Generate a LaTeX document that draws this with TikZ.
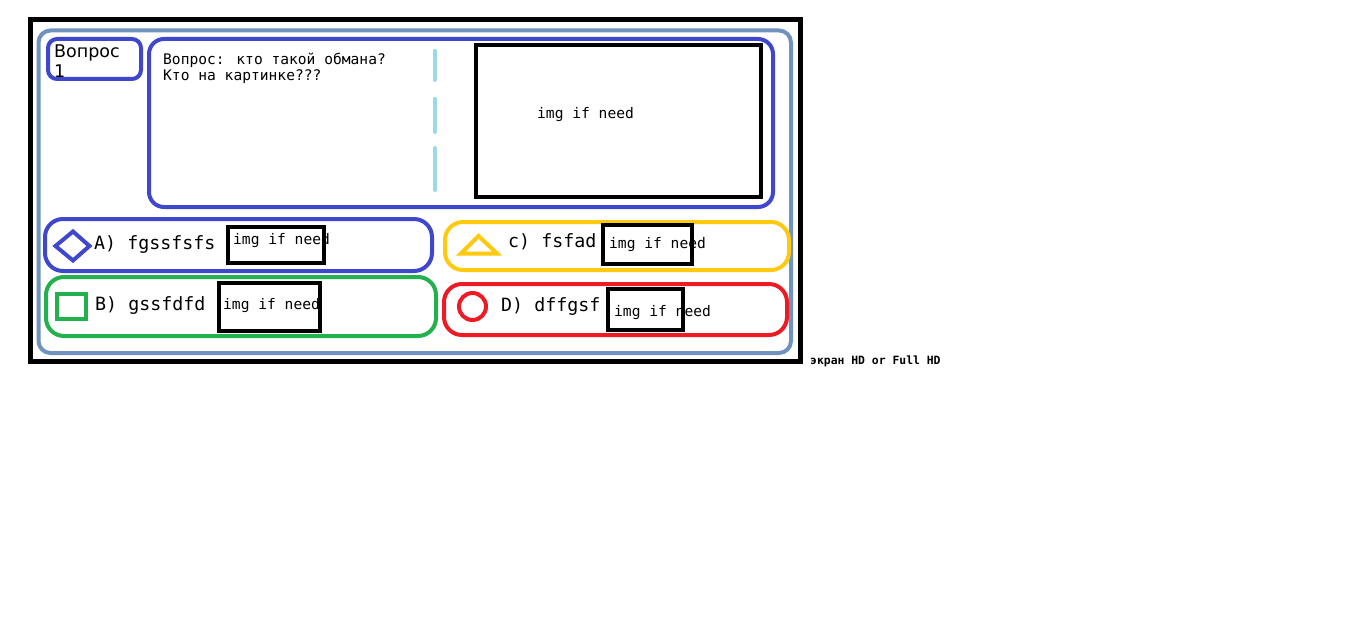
\documentclass[tikz,border=0pt]{standalone}
\usepackage{fontspec}
\setmainfont{DejaVu Sans}
\newfontfamily\monof{DejaVu Sans Mono}
\definecolor{pblue}{HTML}{3F48CC}
\definecolor{pgray}{HTML}{7092BE}
\definecolor{pturq}{HTML}{99D9EA}
\definecolor{pyellow}{HTML}{FFC90E}
\definecolor{pgreen}{HTML}{22B14C}
\definecolor{pred}{HTML}{ED1C24}
\tikzset{
  frame/.style={draw=black,line width=5pt},
  panel/.style={draw=pgray,line width=4pt,rounded corners=12pt},
  bluebox/.style={draw=pblue,line width=4pt,rounded corners=12pt},
  ansbox/.style={line width=4pt,rounded corners=18pt},
  imgbox/.style={draw=black,line width=4.5pt},
  icon/.style={line width=4pt},
  dashseg/.style={draw=pturq,line width=4pt,line cap=round},
  smalltxt/.style={anchor=base west,inner sep=0pt,font=\monof\fontsize{14.6}{16}\selectfont},
  anstxt/.style={anchor=base west,inner sep=0pt,font=\monof\fontsize{18.3}{20}\selectfont},
}
\begin{document}
\begin{tikzpicture}[x=1pt,y=-1pt]
\useasboundingbox (0,0) rectangle (1357,623);
\fill[white] (0,0) rectangle (1357,623);
% outer frame
\draw[frame] (30.5,19.5) rectangle (800.5,361.5);
\draw[panel] (38.5,30.5) rectangle (791,353);
% question number
\draw[bluebox,rounded corners=9pt] (48,39) rectangle (141,79);
\node[anchor=base west,inner sep=0pt,font=\fontsize{17.5}{20}\selectfont] (qn1) at (54,58) {Вопрос};
\node[anchor=base west,inner sep=0pt,font=\fontsize{17.5}{20}\selectfont] (qn2) at (54,78) {1};
% question box
\draw[bluebox,rounded corners=15pt] (149,39) rectangle (773,207);
\node[smalltxt] (q1) at (163,65) {Вопрос: кто такой обмана?};
\node[smalltxt] (q2) at (163,81) {Кто на картинке???};
\draw[dashseg] (434.5,51) -- (434.5,80);
\draw[dashseg] (434.5,99) -- (434.5,132);
\draw[dashseg] (434.5,148) -- (434.5,190);
\draw[imgbox] (476,45) rectangle (761,197);
\node[smalltxt] (qi) at (537,119) {img if need};
% answer A
\draw[ansbox,draw=pblue] (45,219) rectangle (432,271);
\draw[icon,draw=pblue] (55.5,246) -- (73,231.5) -- (89.5,246) -- (73,260.5) -- cycle;
\node[anstxt] (ta) at (94,249) {A) fgssfsfs};
\draw[imgbox] (228,227) rectangle (324,263);
\node[smalltxt] (ia) at (233,244) {img if need};
% answer C
\draw[ansbox,draw=pyellow] (445,222) rectangle (789,270);
\draw[icon,draw=pyellow] (461,253.5) -- (478.5,236) -- (497,253.5) -- cycle;
\node[anstxt] (tc) at (508,247) {c) fsfad};
\draw[imgbox] (603,225) rectangle (692,264);
\node[smalltxt] (ic) at (609,248) {img if need};
% answer B
\draw[ansbox,draw=pgreen] (46,277) rectangle (436,336);
\draw[icon,draw=pgreen] (57,294) rectangle (86,319);
\node[anstxt] (tb) at (95,310) {B) gssfdfd};
\draw[imgbox] (219,283) rectangle (320,331);
\node[smalltxt] (ib) at (223,309) {img if need};
% answer D
\draw[ansbox,draw=pred] (444,284) rectangle (787,335);
\draw[icon,draw=pred] (472.5,306.5) circle (13.5);
\node[anstxt] (td) at (501,311) {D) dffgsf};
\draw[imgbox] (608,289) rectangle (683,330);
\node[smalltxt] (id) at (614,316) {img if need};
% caption
\node[anchor=base west,inner sep=0pt,font=\monof\bfseries\fontsize{11.4}{13}\selectfont] (cap) at (810,364) {экран HD or Full HD};
\end{tikzpicture}
\end{document}
